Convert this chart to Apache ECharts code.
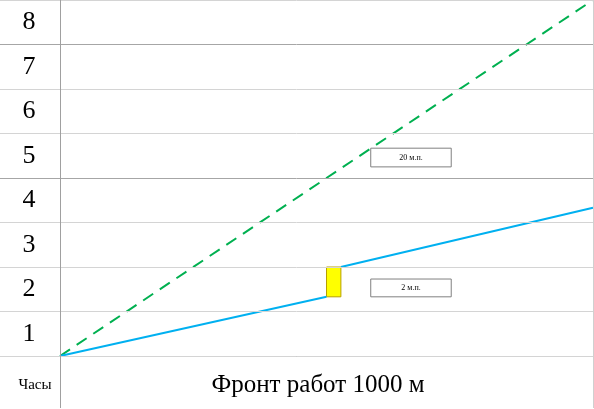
<!DOCTYPE html>
<html><head><meta charset="utf-8">
<script src="https://cdn.jsdelivr.net/npm/echarts@6/dist/echarts.min.js"></script>
<style>html,body{margin:0;padding:0;background:#fff}#c{width:594px;height:409px}</style>
</head><body><div id="c"></div>
<script>
// Data
const hourLabels = ['1','2','3','4','5','6','7','8'];
const gridValues = [0,1,2,3,4,5,6,7,8];
const darkLines = [4,7];
const greenLine = [[0,0],[1000,8]];
const blueSeg1 = [[0,0],[500,1.33]];
const blueSeg2 = [[527,2],[1000,3.33]];
const pauseBlock = {x0:500, x1:527, y0:1.33, y1:2};
const noteBoxes = [
  {text:'20 м.п.', x0:583, x1:734, y0:4.25, y1:4.67},
  {text:'2 м.п.', x0:583, x1:734, y0:1.33, y1:1.73}
];
const xName = 'Фронт работ 1000 м';
const yName = 'Часы';
const frontMax = 1000;

const chart = echarts.init(document.getElementById('c'));
const serif = '"Liberation Serif","DejaVu Serif",serif';
chart.setOption({
  animation:false,
  backgroundColor:'#fff',
  title:[
    {text:xName, left:313, top:368, textAlign:'center', textStyle:{fontFamily:serif, fontWeight:'normal', fontSize:25, color:'#000'}},
    {text:yName, left:30, top:373, textAlign:'center', textStyle:{fontFamily:serif, fontWeight:'normal', fontSize:15, color:'#000'}}
  ],
  grid:{left:0, right:1, top:0, bottom:1},
  xAxis:{type:'value', min:-112.6, max:frontMax, axisLine:{show:true, lineStyle:{color:'#a0a0a0', width:1}}, axisTick:{show:false}, axisLabel:{show:false}, splitLine:{show:false}},
  yAxis:{type:'value', min:-1.1685, max:8, axisLine:{show:false}, axisTick:{show:false}, splitLine:{show:false},
    axisLabel:{show:true, inside:true, margin:29, align:'center', verticalAlign:'middle', customValues:[0.5,1.5,2.5,3.5,4.5,5.5,6.5,7.5],
      formatter:(v)=>hourLabels[Math.floor(v)], fontFamily:serif, fontSize:26, color:'#000', padding:[3,0,0,0]}},
  series:[
    {type:'line', data:[], silent:true,
      markLine:{symbol:'none', silent:true, label:{show:false}, animation:false,
        data: gridValues.map(v=>({yAxis:v, lineStyle:{type:'solid', width:1, color: darkLines.includes(v)?'#a6a6a6':'#d4d4d4'}}))
          .concat([{xAxis:0, lineStyle:{type:'solid', width:1, color:'#a0a0a0'}},{xAxis:frontMax, lineStyle:{type:'solid', width:1, color:'#d0d0d0'}}])},
      markArea:{silent:true,
        data: noteBoxes.map(b=>[{xAxis:b.x0, yAxis:b.y1, label:{show:true, position:'inside', formatter:b.text, fontFamily:serif, fontSize:8, color:'#000'}, itemStyle:{color:'#fff', borderColor:'#808080', borderWidth:1}},{xAxis:b.x1, yAxis:b.y0}])
          .concat([[{xAxis:pauseBlock.x0, yAxis:pauseBlock.y1, itemStyle:{color:'#ffff00', borderColor:'#b8a000', borderWidth:1}},{xAxis:pauseBlock.x1, yAxis:pauseBlock.y0}]])}
    },
    {type:'line', data:greenLine, symbol:'none', lineStyle:{color:'#00b050', width:2, type:[12,8]}},
    {type:'line', data:blueSeg1, symbol:'none', lineStyle:{color:'#00b0f0', width:2}},
    {type:'line', data:blueSeg2, symbol:'none', lineStyle:{color:'#00b0f0', width:2}}
  ]
});
</script></body></html>
